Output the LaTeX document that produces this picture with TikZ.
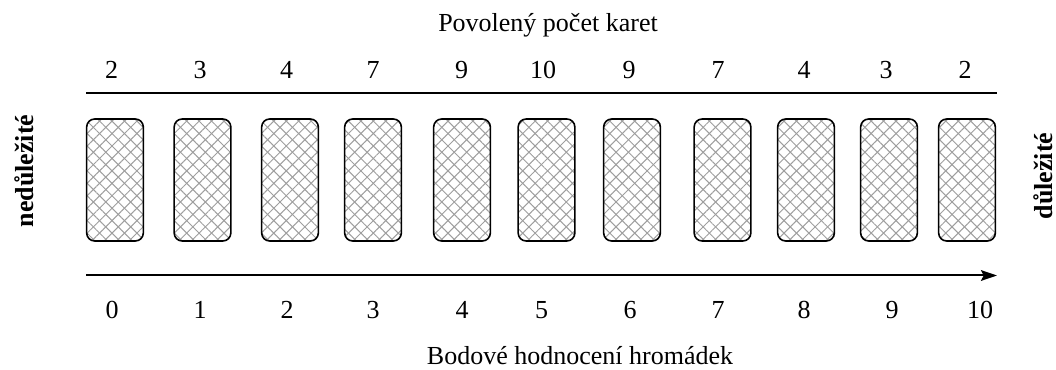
\documentclass[tikz,border=0pt]{standalone}
\usepackage{fontspec}
\setmainfont{Liberation Serif}
\usetikzlibrary{patterns.meta,arrows.meta}
\tikzset{
  card/.style={draw=black, line width=1.2pt, rounded corners=6pt,
    minimum width=42.5pt, minimum height=91.5pt, inner sep=0pt,
    pattern={Lines[angle=45,distance=6.6pt,line width=0.75pt]}, pattern color=black!38,
    preaction={pattern={Lines[angle=-45,distance=6.6pt,line width=0.75pt]}, pattern color=black!38}},
  lbl/.style={font=\fontsize{19.5}{23}\selectfont, anchor=base, inner sep=0pt},
  side/.style={font=\fontsize{19.5}{23}\selectfont\bfseries, anchor=base, inner sep=0pt, rotate=90},
  rule/.style={line width=1.1pt},
  axis/.style={line width=1.5pt, -{Stealth[length=12pt,width=8pt,inset=2pt]}}
}
\begin{document}
\begin{tikzpicture}[x=0.75pt,y=-0.75pt]
\useasboundingbox (0,0) rectangle (1056,370);
% titles
\node[lbl] (top) at (548,32) {Povolený počet karet};
\node[lbl] (bottom) at (580,364) {Bodové hodnocení hromádek};
% side labels
\node[side] (left) at (33,171) {nedůležité};
\node[side] (right) at (1052,176) {důležité};
% cards
\foreach \x [count=\i] in {115,202.5,290,373,462,546.5,632,722.5,806,889,967}
  \node[card] (c\i) at (\x,180) {};
% allowed counts
\foreach \x/\t [count=\i] in {111.7/2,200/3,286.7/4,373/7,461.7/9,543/10,629/9,718/7,804/4,886/3,965/2}
  \node[lbl] (n\i) at (\x,79) {\t};
% scores
\foreach \x/\t [count=\i] in {112/0,200/1,287/2,373/3,462/4,541.5/5,630/6,718/7,804/8,892/9,980/10}
  \node[lbl] (s\i) at (\x,318) {\t};
% top rule
\coordinate (tl) at (86,93);
\coordinate (tr) at (997,93);
\draw[rule] (tl) -- (tr);
% axis arrow
\coordinate (al) at (86,275.5);
\coordinate (ar) at (997,275.5);
\draw[axis] (al) -- (ar);
\end{tikzpicture}
\end{document}
